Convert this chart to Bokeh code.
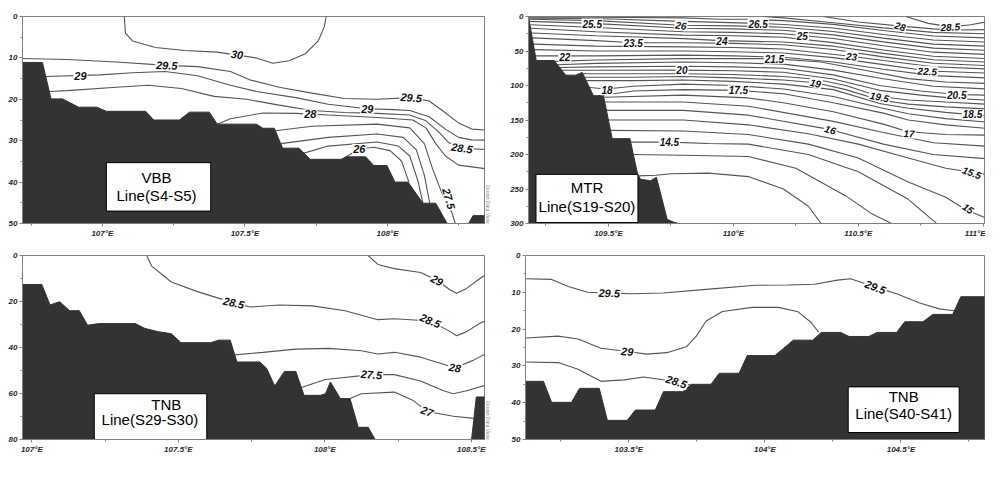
from bokeh.plotting import figure
from bokeh.models import Range1d, FixedTicker, Title
from bokeh.layouts import column, row
from bokeh.embed import file_html
from bokeh.resources import INLINE
from bokeh.core.properties import value

FONT = "Liberation Sans"
LAND_COLOR = "#333333"
ISO_COLOR = "#555555"
FRAME_COLOR = "#808080"
TICK_TEXT = "#2a2a2a"

# ================= Panel A : VBB Line(S4-S5)  (lon, depth m) =================
VBB_LAND_LON = [106.70, 106.70, 106.79, 106.82, 106.86, 106.917, 106.98, 107.014, 107.152, 107.18, 107.27,
                107.306, 107.375, 107.403, 107.54, 107.563, 107.603, 107.632, 107.689, 107.729, 107.838,
                107.855, 107.923, 107.952, 107.998, 108.026, 108.072, 108.124, 108.169, 108.209, 108.284,
                108.30, 108.36, 108.36]
VBB_LAND_DEP = [51, 11.1, 11.1, 19.9, 19.9, 21.9, 21.9, 22.9, 22.9, 25.0, 25.0,
                23.1, 23.1, 26.0, 26.0, 27.0, 27.0, 31.8, 31.8, 34.5, 34.5,
                33.9, 33.9, 36.0, 36.0, 40.0, 40.0, 45.1, 45.1, 50.0, 50.0,
                48.1, 48.1, 51]
VBB_ISO = {
    "30": ([107.077, 107.081, 107.106, 107.186, 107.289, 107.403, 107.54, 107.598, 107.655, 107.712, 107.757, 107.778, 107.785],
           [0, 4.0, 5.9, 7.5, 8.2, 8.6, 10.0, 11.3, 10.7, 9.0, 5.9, 2.5, 0]),
    "29.5": ([106.70, 106.877, 107.049, 107.226, 107.334, 107.449, 107.517, 107.620, 107.735, 107.849, 107.963, 108.083, 108.146, 108.192, 108.249, 108.295, 108.36],
             [10.1, 10.4, 11.0, 11.8, 12.1, 13.3, 15.3, 17.1, 18.5, 19.8, 20.0, 19.6, 20.4, 22.7, 25.7, 27.2, 27.5]),
    "29": ([106.80, 106.991, 107.106, 107.220, 107.334, 107.449, 107.540, 107.678, 107.792, 107.929, 108.021, 108.078, 108.146, 108.203, 108.249, 108.295, 108.36],
           [14.5, 14.1, 13.6, 13.3, 14.3, 16.6, 18.1, 19.6, 21.2, 22.3, 22.5, 22.7, 24.2, 27.2, 29.2, 29.8, 29.9]),
    "28.5": ([106.814, 106.877, 107.049, 107.163, 107.277, 107.392, 107.506, 107.620, 107.735, 107.849, 107.963, 108.078, 108.135, 108.181, 108.215, 108.261, 108.36],
             [18.1, 17.9, 17.1, 16.6, 17.4, 19.3, 20.0, 21.4, 22.7, 23.2, 23.4, 23.8, 25.2, 28.0, 30.5, 31.8, 32.2]),
    "28": ([107.403, 107.449, 107.563, 107.678, 107.792, 107.963, 108.089, 108.135, 108.169, 108.203, 108.249, 108.36],
           [26.0, 24.7, 23.3, 23.4, 23.8, 24.4, 25.0, 26.9, 30.7, 33.7, 35.9, 36.9]),
    "27.5": ([107.607, 107.735, 107.963, 108.078, 108.129, 108.158, 108.192, 108.226, 108.242],
             [27.6, 26.5, 26.0, 26.9, 30.7, 36.8, 42.9, 47.4, 51]),
    "27": ([107.626, 107.792, 107.963, 108.055, 108.101, 108.129, 108.148],
           [30.7, 29.2, 28.4, 29.2, 32.2, 38.3, 45.1]),
    "26.5": ([107.707, 107.792, 107.963, 108.038, 108.078, 108.107, 108.124],
             [33.0, 31.3, 30.3, 31.3, 33.7, 39.8, 45.1]),
    "26": ([107.849, 107.901, 107.952, 108.009, 108.049, 108.075],
           [34.1, 32.0, 31.6, 32.4, 34.9, 40.0]),
}
VBB_LBL_TEXT = ["30", "29.5", "29", "29.5", "29", "28", "28.5", "26", "27.5"]
VBB_LBL_LON = [107.472, 107.226, 106.923, 108.083, 107.929, 107.729, 108.261, 107.901, 108.215]
VBB_LBL_DEP = [9.2, 11.8, 14.3, 19.6, 22.3, 23.6, 31.8, 32.0, 44.0]
VBB_LBL_ANG = [-0.12, -0.04, 0.0, -0.08, 0.0, 0.0, -0.15, 0.0, -1.3]

# ================= Panel B : MTR Line(S19-S20) =================
MTR_LAND_LON = [109.15, 109.18, 109.211, 109.283, 109.329, 109.369, 109.395, 109.440, 109.480, 109.515, 109.586,
                109.617, 109.629, 109.669, 109.692, 109.735, 109.76, 109.80, 109.15]
MTR_LAND_DEP = [0, 0, 63.8, 63.8, 85, 85, 81, 114.8, 114.8, 177, 177,
                229, 236, 238, 233, 294, 298, 302, 302]
MTR_ISO = {
    "28.5": ([110.69, 110.78, 110.87, 110.95, 111.01], [0, 10, 15, 12, 8]),
    "28": ([110.36, 110.5, 110.67, 110.8, 110.9, 111.01], [0, 8, 14, 18, 19.5, 19]),
    "27.5": ([110.12, 110.2, 110.4, 110.6, 110.8, 111.01], [0, 2, 9, 16.5, 23, 25]),
    "27": ([109.181, 109.45, 109.8, 109.95, 110.05, 110.2, 110.4, 110.6, 110.8, 111.01], [1, 1, 2, 4, 4, 6, 11.4, 20.4, 28.2, 31]),
    "26.5": ([109.183, 109.45, 109.8, 110.1, 110.2, 110.4, 110.6, 110.8, 111.01], [2.5, 3, 7, 10, 11.5, 16.7, 26, 34.1, 37]),
    "26": ([109.184, 109.45, 109.79, 110.0, 110.2, 110.4, 110.6, 110.8, 111.01], [4, 6, 12.6, 13.6, 15.6, 21.7, 31.4, 40, 43]),
    "25.5": ([109.185, 109.435, 109.8, 110.0, 110.2, 110.4, 110.6, 110.8, 111.01], [7, 10, 17, 18, 20, 26.6, 36.8, 45.8, 49]),
    "25": ([109.188, 109.45, 109.8, 110.0, 110.2, 110.4, 110.6, 110.8, 111.01], [12, 16, 22, 23, 25, 31.9, 42.5, 51.7, 55]),
    "24.5": ([109.19, 109.45, 109.8, 110.0, 110.2, 110.4, 110.6, 110.8, 111.01], [17, 22, 27, 28, 30, 37.9, 48.5, 57.7, 61]),
    "24": ([109.194, 109.45, 109.8, 109.95, 110.2, 110.4, 110.6, 110.8, 111.01], [24, 28, 32, 35, 37, 43, 53.5, 62.7, 66]),
    "23.5": ([109.197, 109.45, 109.6, 109.8, 110.0, 110.2, 110.4, 110.6, 110.8, 111.01], [31, 35, 38, 38, 39, 41, 47.9, 58.5, 67.7, 71]),
    "23": ([109.201, 109.45, 109.8, 110.0, 110.2, 110.47, 110.6, 110.8, 111.01], [40, 43, 44, 45, 47, 57.7, 63.8, 72.8, 76]),
    "22.5": ([109.204, 109.45, 109.8, 110.0, 110.2, 110.4, 110.6, 110.78, 111.01], [48, 50, 50, 51, 53, 59.6, 69.8, 79, 82]),
    "22": ([109.208, 109.45, 109.8, 110.0, 110.2, 110.4, 110.6, 110.8, 111.01], [57, 57, 56, 57, 59, 65.9, 76.5, 85.7, 89]),
    "21.5": ([109.286, 109.45, 109.8, 110.16, 110.35, 110.5, 110.7, 110.85, 111.01], [65, 63, 61, 61, 66, 76, 90, 95, 97]),
    "21": ([109.296, 109.45, 109.8, 110.0, 110.2, 110.4, 110.6, 110.8, 111.01], [70, 68, 66, 67, 69, 77.7, 90.2, 101, 105]),
    "20.5": ([109.305, 109.45, 109.8, 110.0, 110.2, 110.4, 110.585, 110.75, 110.894, 111.01], [74, 73, 72, 73, 75, 84.6, 100, 108, 113, 114]),
    "20": ([109.314, 109.45, 109.79, 110.0, 110.2, 110.4, 110.585, 110.75, 110.9, 111.01], [78, 78, 77.7, 78.7, 80.7, 90.6, 107, 114, 119, 121]),
    "19.5": ([109.398, 109.6, 109.8, 110.0, 110.2, 110.33, 110.45, 110.585, 110.7, 110.85, 111.01], [83, 83, 83, 84, 87, 91, 100, 116, 121, 124, 127]),
    "19": ([109.404, 109.6, 109.8, 110.0, 110.2, 110.33, 110.45, 110.585, 110.7, 110.85, 111.01], [88, 88, 87, 89, 92, 96, 106, 121, 127, 131, 134]),
    "18.5": ([109.411, 109.6, 109.8, 110.0, 110.2, 110.4, 110.585, 110.7, 110.85, 111.01], [93, 93, 92, 94, 98, 106, 126, 133, 139, 144]),
    "18": ([109.426, 109.49, 109.6, 109.8, 110.0, 110.2, 110.4, 110.585, 110.7, 110.85, 111.01], [103, 105, 101, 98, 100, 105, 116, 132, 141, 148, 153]),
    "17.5": ([109.46, 109.6, 109.8, 110.02, 110.2, 110.4, 110.6, 110.7, 110.85, 111.01], [114.8, 108, 106, 107, 112, 125, 140, 150, 157, 162]),
    "17": ([109.481, 109.8, 110.06, 110.2, 110.4, 110.6, 110.7, 110.85, 111.01], [117, 114, 118, 125, 138, 156, 167, 171, 172]),
    "16.5": ([109.485, 109.8, 110.06, 110.4, 110.6, 110.8, 111.01], [124, 124, 130, 152, 168, 183, 188]),
    "16": ([109.488, 109.8, 110.06, 110.39, 110.6, 110.8, 111.01], [136, 136, 143, 164, 185, 200, 206]),
    "15.5": ([109.496, 109.8, 110.06, 110.3, 110.5, 110.7, 110.85, 111.01], [150, 150, 157, 170, 185, 205, 220, 229]),
    "15": ([109.505, 109.8, 110.06, 110.3, 110.5, 110.7, 110.85, 110.93, 111.01], [165, 166, 171, 185, 205, 240, 262, 280, 292]),
    "14.5": ([109.589, 109.744, 109.9, 110.06, 110.3, 110.5, 110.7, 110.82], [182, 182, 184, 185, 200, 225, 265, 302]),
    "14": ([109.60, 109.8, 110.06, 110.25, 110.45, 110.55, 110.644], [200, 201, 203, 220, 260, 285, 302]),
    "13.5": ([109.62, 109.69, 109.75, 109.9, 110.06, 110.2, 110.3, 110.355], [231, 230, 228, 227, 232, 250, 275, 302]),
}
MTR_LBL_TEXT = ["25.5", "26", "26.5", "25", "28", "28.5", "23.5", "24", "22", "21.5", "23", "20", "22.5",
                "18", "17.5", "19", "19.5", "20.5", "18.5", "16", "17", "14.5", "15.5", "15"]
MTR_LBL_LON = [109.435, 109.79, 110.099, 110.276, 110.668, 110.868, 109.599, 109.954, 109.325, 110.164, 110.473, 109.794, 110.776,
               109.494, 110.02, 110.329, 110.585, 110.894, 110.957, 110.388, 110.703, 109.744, 110.955, 110.94]
MTR_LBL_DEP = [10.2, 12.6, 10.5, 27.9, 14.0, 14.9, 38.1, 35.9, 58.5, 61.4, 57.7, 77.7, 79.1,
               107, 107, 96.3, 116.3, 113.5, 142, 163.7, 169.3, 182.4, 226, 278]
MTR_LBL_ANG = [0, -0.12, 0, 0, -0.3, 0.05, 0, 0, 0, 0, -0.08, 0, -0.05,
               0, 0, -0.25, -0.2, 0, 0, -0.3, -0.05, 0, -0.35, -0.6]

# ================= Panel C : TNB Line(S29-S30) =================
TNB1_LAND_LON = [106.95, 107.034, 107.062, 107.095, 107.129, 107.162, 107.190, 107.230, 107.353, 107.386, 107.431,
                 107.476, 107.509, 107.610, 107.638, 107.677, 107.700, 107.778, 107.801, 107.829, 107.862, 107.901,
                 107.929, 107.985, 108.002, 108.019, 108.053, 108.086, 108.114, 108.148, 108.176, 106.95]
TNB1_LAND_DEP = [12.6, 12.6, 21.5, 20.1, 24.0, 24.0, 30.3, 29.6, 29.6, 31.7, 33.1,
                 34.0, 37.9, 37.9, 36.8, 36.8, 46.3, 46.3, 49.0, 56.7, 50.4, 50.4,
                 60.8, 60.8, 60.1, 55.0, 62.2, 62.2, 74.7, 74.7, 81, 81]
TNB1_SPIKE_LON = [108.500, 108.517, 108.56, 108.56]
TNB1_SPIKE_DEP = [81, 61.5, 61.5, 81]
TNB1_ISO = {
    "29": ([108.148, 108.181, 108.237, 108.327, 108.383, 108.428, 108.450, 108.484, 108.528, 108.56],
           [0, 3.9, 5.7, 7.4, 10.8, 15.0, 16.4, 14.3, 10.1, 7.5]),
    "28.5": ([107.392, 107.409, 107.476, 107.565, 107.689, 107.745, 107.845, 107.957, 108.069, 108.181, 108.237, 108.360, 108.428, 108.450, 108.484, 108.528, 108.56],
             [0, 4.6, 11.5, 15.7, 20.6, 22.4, 21.5, 21.9, 24.0, 27.9, 27.5, 28.5, 33.1, 34.9, 33.1, 29.6, 27.5]),
    "28": ([107.692, 107.789, 107.901, 108.013, 108.125, 108.181, 108.237, 108.327, 108.444, 108.506, 108.56],
           [43.2, 42.1, 40.7, 40.4, 41.4, 42.8, 42.1, 44.2, 48.8, 45.6, 42.0]),
    "27.5": ([107.92, 108.002, 108.159, 108.237, 108.327, 108.405, 108.439, 108.484, 108.56],
             [57.4, 53.9, 51.8, 51.8, 54.6, 58.8, 60.1, 58.8, 56.0]),
    "27": ([108.086, 108.125, 108.237, 108.3, 108.349, 108.439, 108.508],
           [62.2, 60.1, 59.4, 62.9, 67.8, 69.9, 70.8]),
}
TNB1_LBL_TEXT = ["29", "28.5", "28.5", "28", "27.5", "27"]
TNB1_LBL_LON = [108.383, 107.689, 108.36, 108.444, 108.159, 108.349]
TNB1_LBL_DEP = [10.8, 20.6, 28.4, 48.8, 51.8, 67.8]
TNB1_LBL_ANG = [-0.5, -0.22, -0.4, -0.15, -0.08, -0.35]

# ================= Panel D : TNB Line(S40-S41) =================
TNB2_LAND_LON = [103.10, 103.186, 103.216, 103.289, 103.319, 103.391, 103.421, 103.494, 103.524, 103.597, 103.627,
                 103.699, 103.729, 103.802, 103.832, 103.905, 103.935, 104.037, 104.104, 104.176, 104.207, 104.279,
                 104.309, 104.382, 104.412, 104.484, 104.514, 104.581, 104.617, 104.690, 104.720, 104.83, 104.83, 103.10]
TNB2_LAND_DEP = [34.2, 34.2, 39.9, 39.9, 36.1, 36.1, 44.8, 44.8, 42.0, 42.0, 37.0,
                 37.0, 35.0, 35.0, 32.0, 32.0, 27.2, 27.2, 23.0, 23.0, 20.9, 20.9,
                 22.0, 22.0, 20.9, 20.9, 18.0, 18.0, 16.0, 16.0, 11.2, 11.2, 51, 51]
TNB2_ISO = {
    "29.5": ([103.10, 103.216, 103.277, 103.349, 103.428, 103.506, 103.627, 103.784, 103.965, 104.086, 104.182, 104.267, 104.315, 104.406, 104.484, 104.569, 104.641, 104.696],
             [6.3, 6.5, 8.4, 10.0, 10.2, 10.4, 10.2, 9.2, 8.1, 8.0, 7.8, 6.7, 6.3, 8.6, 10.4, 12.9, 14.5, 15.0]),
    "29": ([103.10, 103.240, 103.313, 103.397, 103.494, 103.566, 103.639, 103.711, 103.748, 103.784, 103.844, 103.953, 104.050, 104.122, 104.170, 104.198],
           [22.5, 21.9, 22.7, 25.2, 26.1, 26.8, 26.4, 24.8, 21.9, 17.8, 15.2, 14.1, 14.1, 15.3, 18.2, 20.9]),
    "28.5": ([103.10, 103.240, 103.313, 103.397, 103.482, 103.554, 103.675, 103.726],
             [28.9, 29.1, 30.9, 34.2, 33.8, 33.0, 34.3, 35.2]),
}
TNB2_LBL_TEXT = ["29.5", "29.5", "29", "28.5"]
TNB2_LBL_LON = [103.428, 104.406, 103.494, 103.675]
TNB2_LBL_DEP = [10.2, 8.6, 26.1, 34.3]
TNB2_LBL_ANG = [-0.03, -0.38, -0.08, -0.32]


def make_panel(width, height, borders, xr, max_depth, xticks, xlabels, xminor, yticks, yminor,
               lands, iso, lbl, lbl_size, box, box_texts, odv=False):
    left, right, top, bottom = borders
    p = figure(width=width, height=height, x_range=Range1d(*xr), y_range=Range1d(max_depth, 0),
               toolbar_location=None, tools="", output_backend="svg",
               min_border_left=left, min_border_right=right, min_border_top=top, min_border_bottom=bottom)
    p.grid.visible = False
    p.background_fill_color = "white"
    p.border_fill_color = "white"
    p.outline_line_color = FRAME_COLOR
    p.outline_line_width = 1

    p.xaxis.ticker = FixedTicker(ticks=xticks, minor_ticks=xminor)
    p.xaxis.major_label_overrides = {t: s for t, s in zip(xticks, xlabels)}
    p.yaxis.ticker = FixedTicker(ticks=yticks, minor_ticks=yminor)
    for ax in (p.xaxis[0], p.yaxis[0]):
        ax.axis_line_color = FRAME_COLOR
        ax.major_tick_line_color = FRAME_COLOR
        ax.minor_tick_line_color = FRAME_COLOR
        ax.major_tick_in = 0
        ax.major_tick_out = 3
        ax.minor_tick_in = 0
        ax.minor_tick_out = 2
        ax.major_label_standoff = 2
        ax.major_label_text_font = FONT
        ax.major_label_text_font_style = "bold italic"
        ax.major_label_text_font_size = "8px"
        ax.major_label_text_color = TICK_TEXT

    xs = [v[0] for v in iso.values()]
    ys = [v[1] for v in iso.values()]
    p.multi_line(xs, ys, line_color=ISO_COLOR, line_width=1.1)

    p.patches([l[0] for l in lands], [l[1] for l in lands],
              fill_color=LAND_COLOR, line_color=LAND_COLOR, line_width=1)

    texts, lons, deps, angs = lbl
    p.text(x=lons, y=deps, text=texts, angle=angs,
           text_font=value(FONT), text_font_style="bold italic", text_font_size=lbl_size,
           text_color="#111111", text_align="center", text_baseline="middle",
           background_fill_color="white", padding=1)

    bl, br, bt, bb = box
    p.quad(left=[bl], right=[br], top=[bt], bottom=[bb],
           fill_color="white", line_color="black", line_width=1)
    p.text(x=[t[1] for t in box_texts], y=[t[2] for t in box_texts], text=[t[0] for t in box_texts],
           text_font=value(FONT), text_font_size="15px", text_color="black",
           text_align="center", text_baseline="middle")

    if odv:
        p.add_layout(Title(text="Ocean Data View", text_font=FONT, text_font_size="5px",
                           text_font_style="normal", text_color="#8a8a8a", standoff=0, align="right"), "right")
    return p


p1 = make_panel(492, 240, (22, 8, 12, 16), (106.72, 108.34), 50,
                [107, 107.5, 108], ["107°E", "107.5°E", "108°E"], [106.75, 107.25, 107.75, 108.25],
                [0, 10, 20, 30, 40, 50], [5, 15, 25, 35, 45],
                [(VBB_LAND_LON, VBB_LAND_DEP)], VBB_ISO,
                (VBB_LBL_TEXT, VBB_LBL_LON, VBB_LBL_DEP, VBB_LBL_ANG), "11px",
                (107.014, 107.380, 35.3, 47.0),
                [("VBB", 107.19, 38.8), ("Line(S4-S5)", 107.19, 43.3)], odv=True)

p2 = make_panel(493, 240, (36, 1, 16, 16), (109.18, 111.005), 300,
                [109.5, 110, 110.5, 111], ["109.5°E", "110°E", "110.5°E", "111°E"], [109.25, 109.75, 110.25, 110.75],
                [0, 50, 100, 150, 200, 250, 300], [25, 75, 125, 175, 225, 275],
                [(MTR_LAND_LON, MTR_LAND_DEP)], MTR_ISO,
                (MTR_LBL_TEXT, MTR_LBL_LON, MTR_LBL_DEP, MTR_LBL_ANG), "10px",
                (109.21, 109.618, 228.8, 298.6),
                [("MTR", 109.414, 247.4), ("Line(S19-S20)", 109.414, 275.3)])

p3 = make_panel(492, 226, (22, 8, 13, 27), (106.968, 108.545), 80,
                [107, 107.5, 108, 108.5], ["107°E", "107.5°E", "108°E", "108.5°E"], [107.25, 107.75, 108.25],
                [0, 20, 40, 60, 80], [10, 30, 50, 70],
                [(TNB1_LAND_LON, TNB1_LAND_DEP), (TNB1_SPIKE_LON, TNB1_SPIKE_DEP)], TNB1_ISO,
                (TNB1_LBL_TEXT, TNB1_LBL_LON, TNB1_LBL_DEP, TNB1_LBL_ANG), "11px",
                (107.213, 107.597, 60.1, 80.0),
                [("TNB", 107.459, 64.7), ("Line(S29-S30)", 107.403, 71.3)], odv=True)

p4 = make_panel(493, 226, (33, 1, 15, 14), (103.12, 104.807), 50,
                [103.5, 104, 104.5], ["103.5°E", "104°E", "104.5°E"], [103.25, 103.75, 104.25, 104.75],
                [0, 10, 20, 30, 40, 50], [5, 15, 25, 35, 45],
                [(TNB2_LAND_LON, TNB2_LAND_DEP)], TNB2_ISO,
                (TNB2_LBL_TEXT, TNB2_LBL_LON, TNB2_LBL_DEP, TNB2_LBL_ANG), "11px",
                (104.306, 104.714, 35.7, 48.1),
                [("TNB", 104.51, 38.4), ("Line(S40-S41)", 104.51, 42.9)])

layout = column(row(p1, p2), row(p3, p4))
open("out.html", "w").write(file_html(layout, INLINE))
